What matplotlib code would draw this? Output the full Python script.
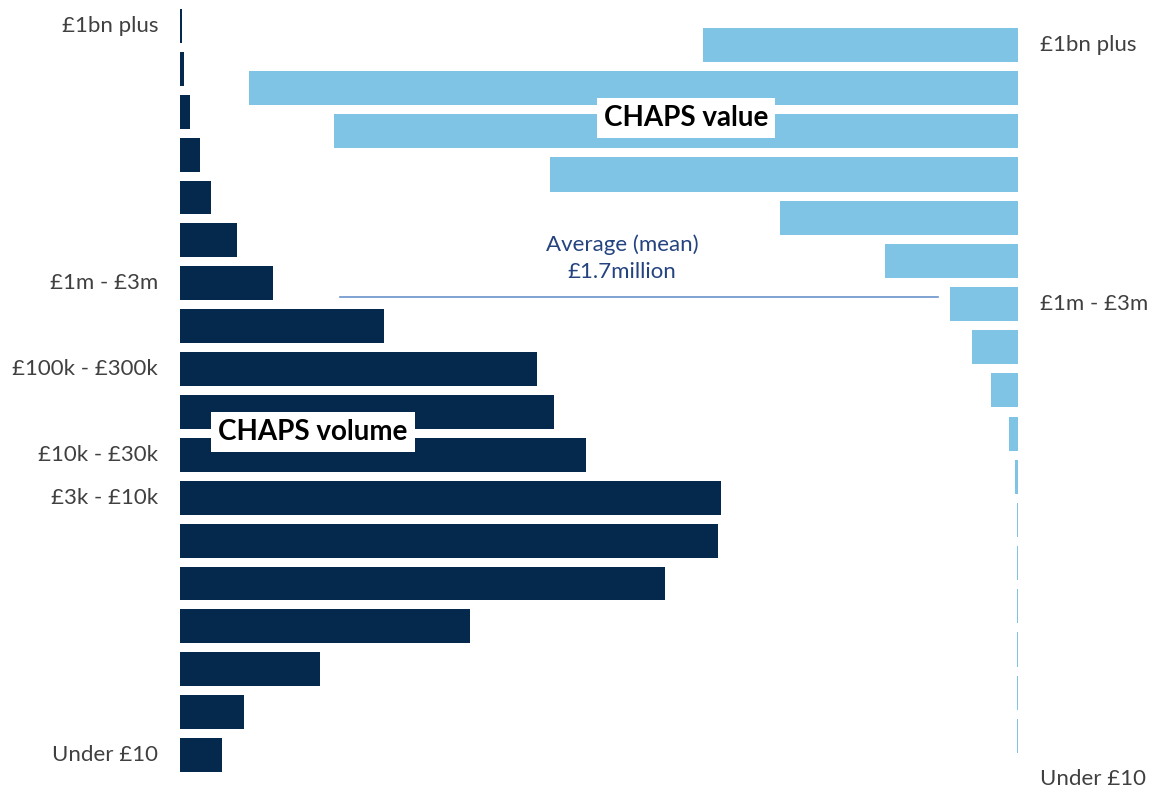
import matplotlib.pyplot as plt

plt.rcParams['font.family'] = ['Lato', 'DejaVu Sans']

# value bands, top to bottom
bands = ["£1bn plus", "£300m - £1bn", "£100m - £300m", "£30m - £100m", "£10m - £30m",
         "£3m - £10m", "£1m - £3m", "£300k - £1m", "£100k - £300k", "£30k - £100k",
         "£10k - £30k", "£3k - £10k", "£1k - £3k", "£300 - £1k", "£100 - £300",
         "£30 - £100", "£10 - £30", "Under £10"]

# relative share
volume = [1.5, 4, 10, 20, 31, 57, 93, 204, 357, 374, 406, 541, 538, 485, 290, 140, 64, 42]
value = [315, 769, 684, 468, 238, 133, 68, 46, 27, 9, 3, 1, 1, 1, 1, 1, 1, 0]

left_labels = ["£1bn plus", "£1m - £3m", "£100k - £300k", "£10k - £30k", "£3k - £10k", "Under £10"]
right_labels = ["£1bn plus", "£1m - £3m", "Under £10"]

navy = "#05284d"
light = "#7fc3e5"
grey = "#404040"

W, H = 1160, 791
fig = plt.figure(figsize=(W / 100, H / 100), dpi=100)

# left panel (volume)
x0, x1 = 180, 1018
top, bot = 4.5, 776.5
axl = fig.add_axes([x0 / W, 1 - bot / H, (x1 - x0) / W, (bot - top) / H])
pos = list(range(len(bands)))
axl.barh(pos, volume, height=0.79, color=navy)
axl.set_xlim(0, x1 - x0)
axl.set_ylim(len(bands) - 0.5, -0.5)
axl.axis("off")
for lab in left_labels:
    i = bands.index(lab)
    axl.text(-22, i, lab, ha="right", va="center", fontsize=16, color=grey)

# right panel (value)
top2, bot2 = 23.4, 800.6
axr = fig.add_axes([x0 / W, 1 - bot2 / H, (x1 - x0) / W, (bot2 - top2) / H])
axr.barh(pos, value, height=0.79, color=light)
axr.set_xlim(x1 - x0, 0)
axr.set_ylim(len(bands) - 0.5, -0.5)
axr.axis("off")
for lab in right_labels:
    i = bands.index(lab)
    axr.text(-22, i, lab, ha="left", va="center", fontsize=16, color=grey, clip_on=False)

# mean marker
axl.plot([160, 758], [6.32, 6.32], color="#6b93cc", lw=1.2)
axl.text(442, 5.41, "Average (mean)\n£1.7million", ha="center", va="center",
         fontsize=16, color="#24437f", linespacing=1.45)

# series labels
axr.text(332, 1.7, "CHAPS value", ha="center", va="center", fontsize=20,
         fontweight="bold", color="black",
         bbox=dict(facecolor="white", edgecolor="none", pad=5))
axl.text(133, 9.47, "CHAPS volume", ha="center", va="center", fontsize=20,
         fontweight="bold", color="black",
         bbox=dict(facecolor="white", edgecolor="none", pad=5))

fig.savefig("out.png", dpi=100)
